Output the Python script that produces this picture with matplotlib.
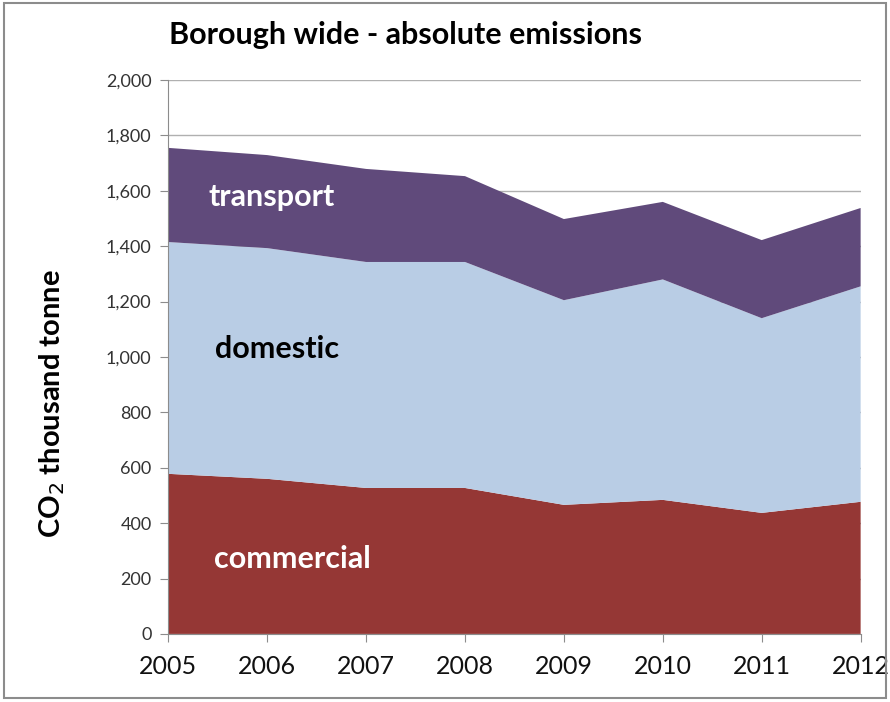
import matplotlib
matplotlib.use("Agg")
from matplotlib import pyplot as plt
from matplotlib.patches import Rectangle

years = [2005, 2006, 2007, 2008, 2009, 2010, 2011, 2012]
commercial = [578, 560, 527, 527, 466, 484, 437, 477]
domestic_top = [1415, 1393, 1343, 1343, 1205, 1280, 1140, 1255]
transport_top = [1755, 1729, 1679, 1653, 1498, 1560, 1422, 1538]

domestic = [d - c for d, c in zip(domestic_top, commercial)]
transport = [t - d for t, d in zip(transport_top, domestic_top)]

plt.rcParams['font.family'] = ['Lato', 'DejaVu Sans']

fig = plt.figure(figsize=(8.9, 7.02), dpi=100)
fig.patches.append(Rectangle((0.004, 0.006), 0.992, 0.99, transform=fig.transFigure,
                             fill=False, edgecolor="#8c8c8c", linewidth=1.5))
ax = fig.add_axes([0.189, 0.097, 0.778, 0.789])

ax.stackplot(years, commercial, domestic, transport,
             colors=["#953735", "#b9cde5", "#604a7b"], linewidth=0)

ax.set_xlim(2005, 2012)
ax.set_ylim(0, 2000)
ax.set_yticks(range(0, 2001, 200))
ax.set_yticklabels([f"{v:,}" for v in range(0, 2001, 200)], fontsize=13, color="#333333")
ax.set_xticks(years)
ax.set_xticklabels([str(y) for y in years], fontsize=18, color="#111111")
ax.grid(axis="y", color="#b0b0b0", linewidth=1)
ax.set_axisbelow(True)
for s in ["top", "right"]:
    ax.spines[s].set_visible(False)
ax.spines["left"].set_color("#8c8c8c")
ax.spines["bottom"].set_color("#8c8c8c")
ax.tick_params(axis="y", length=6, color="#8c8c8c", pad=6)
ax.tick_params(axis="x", length=6, color="#8c8c8c", pad=9)

fig.text(0.058, 0.425, "CO$_2$ thousand tonne", fontsize=21, fontweight="bold",
         rotation=90, ha="center", va="center")

ax.text(2006.05, 1578, "transport", color="white", fontsize=22, fontweight="bold",
        ha="center", va="center")
ax.text(2006.1, 1030, "domestic", color="black", fontsize=22, fontweight="bold",
        ha="center", va="center")
ax.text(2006.26, 270, "commercial", color="white", fontsize=22, fontweight="bold",
        ha="center", va="center")

fig.text(0.19, 0.95, "Borough wide - absolute emissions", fontsize=22,
         fontweight="bold", ha="left", va="center")

fig.savefig("out.png", dpi=100)
